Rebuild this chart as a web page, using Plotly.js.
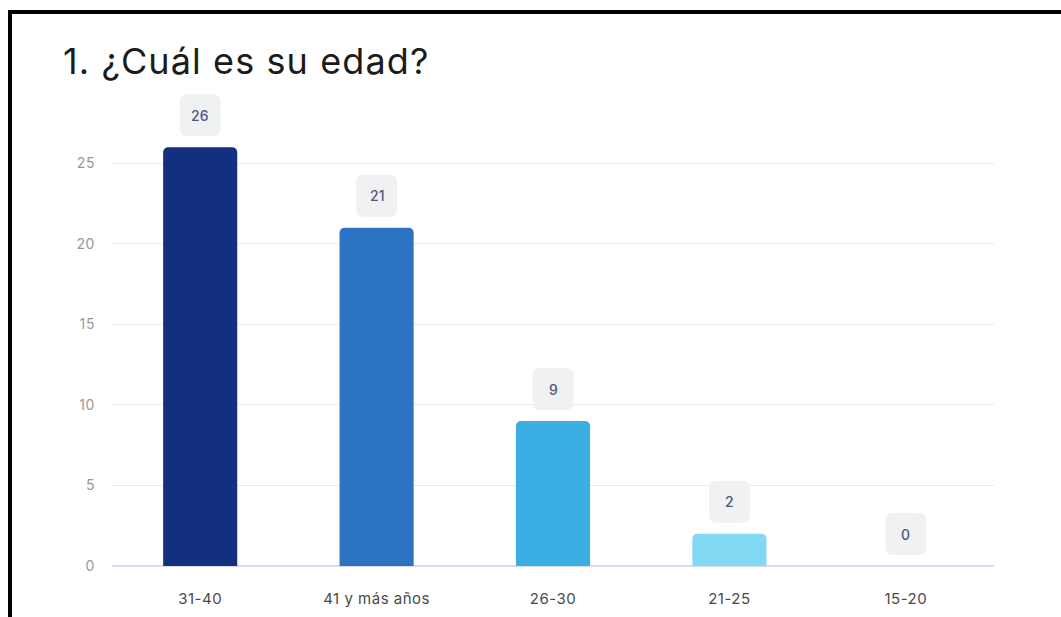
<!DOCTYPE html>
<html>
<head>
<meta charset="utf-8">
<script src="https://cdn.plot.ly/plotly-3.0.1.min.js"></script>
<style>
html,body{margin:0;padding:0;background:#fff;overflow:hidden;}
#chart{position:absolute;left:0;top:0;width:1061px;height:617px;}
#frame{position:absolute;left:8px;top:10px;width:1100px;height:700px;border:4px solid #000;pointer-events:none;box-sizing:border-box;}
#chart .gtitle{letter-spacing:1.1px;}
#chart .xtick text{letter-spacing:0.5px;}
#chart .ytick text{letter-spacing:0.6px;}
</style>
</head>
<body>
<div id="chart"></div>
<div id="frame"></div>
<script>
const titleText = '1. ¿Cuál es su edad?';
const categories = ['31-40', '41 y más años', '26-30', '21-25', '15-20'];
const values = [26, 21, 9, 2, 0];
const barColors = ['#132f7f', '#2c73c4', '#3caee6', '#80d8f2', '#a9e6f7'];
const yTicks = [0, 5, 10, 15, 20, 25];

const boxPath = 'M -12.5,11 L 12.5,11 Q 20.5,11 20.5,19 L 20.5,45 Q 20.5,53 12.5,53 L -12.5,53 Q -20.5,53 -20.5,45 L -20.5,19 Q -20.5,11 -12.5,11 Z';

const shapes = categories.map((c, i) => ({
  type: 'path', xref: 'x', yref: 'y',
  xsizemode: 'pixel', ysizemode: 'pixel',
  xanchor: c, yanchor: values[i],
  path: boxPath,
  fillcolor: '#f0f1f3', line: {width: 0}, layer: 'above'
}));

const annotations = categories.map((c, i) => ({
  x: c, y: values[i], xref: 'x', yref: 'y',
  text: String(values[i]), showarrow: false,
  yshift: 32, yanchor: 'middle',
  font: {family: 'Inter, sans-serif', size: 14, color: '#55557a', weight: 500}
}));

const trace = {
  type: 'bar', x: categories, y: values,
  marker: {color: barColors, cornerradius: 5, line: {width: 0}},
  hoverinfo: 'skip'
};

const layout = {
  width: 1061, height: 617,
  margin: {l: 112, r: 67, t: 91, b: 51, pad: 0},
  paper_bgcolor: '#fff', plot_bgcolor: '#fff',
  showlegend: false,
  bargap: 0.58,
  title: {
    text: titleText, xref: 'container', yref: 'container',
    x: 63 / 1061, xanchor: 'left', y: 1 - 61 / 617, yanchor: 'middle',
    font: {family: 'Inter, sans-serif', size: 36, color: '#1b1b1b'}
  },
  xaxis: {
    type: 'category', showgrid: false, zeroline: false, showline: false,
    ticks: '', ticklabelstandoff: 22,
    tickfont: {family: 'Inter, sans-serif', size: 15, color: '#4a4a4a'}
  },
  yaxis: {
    range: [0, 29.5], tickvals: yTicks, ticktext: yTicks.map(String),
    showgrid: true, gridcolor: '#e9e9ee', gridwidth: 1,
    zeroline: true, zerolinecolor: '#d9dcef', zerolinewidth: 2,
    showline: false, ticks: '', ticklabelstandoff: 16,
    tickfont: {family: 'Inter, sans-serif', size: 14, color: '#999999'}
  },
  shapes: shapes,
  annotations: annotations
};

Plotly.newPlot('chart', [trace], layout, {staticPlot: true, displayModeBar: false});
</script>
</body>
</html>
